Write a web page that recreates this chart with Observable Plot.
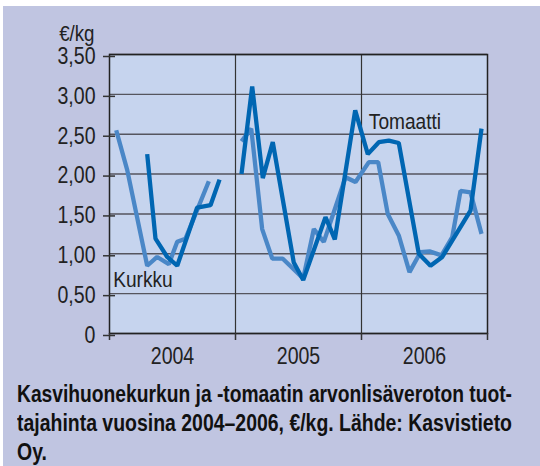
<!DOCTYPE html>
<html><head><meta charset="utf-8">
<script src="https://cdn.jsdelivr.net/npm/d3@7"></script>
<script src="https://cdn.jsdelivr.net/npm/@observablehq/plot@0.6"></script>
<style>
body{margin:0;background:#fff;font-family:"Liberation Sans",Arial,sans-serif;}
#panel{position:absolute;left:3px;top:6px;width:537px;height:460px;background:#c0c5e1;}
#chart{position:absolute;left:0;top:0;}
#caption{position:absolute;left:17px;top:380px;font-weight:bold;font-size:23px;line-height:29px;color:#111;}
#caption div{white-space:nowrap;transform-origin:0 0;width:max-content;}
</style></head>
<body>
<div id="panel"></div>
<div id="chart"></div>
<div id="caption">
<div>Kasvihuonekurkun ja -tomaatin arvonlisäveroton tuot-</div>
<div>tajahinta vuosina 2004–2006, €/kg. Lähde: Kasvistieto</div>
<div>Oy.</div>
</div>
<script>
// x = month index from Jan 2004 (0) to end of 2006 (36)
const kurkku2004Month = [0.64, 1.69, 3.59, 4.54, 5.65, 6.45, 7.24, 9.46];
const kurkku2004Price = [2.55, 2.05, 0.85, 0.96, 0.87, 1.15, 1.19, 1.91];
const kurkku0506Month = [12.57, 13.50, 14.54, 15.50, 16.48, 18.45, 19.46, 20.41, 22.48, 23.43, 24.70, 25.59, 26.50, 27.55, 28.57, 29.62, 30.48, 31.62, 32.64, 33.43, 34.38, 35.43];
const kurkku0506Price = [2.41, 2.57, 1.31, 0.94, 0.94, 0.69, 1.31, 1.15, 1.96, 1.90, 2.15, 2.15, 1.50, 1.23, 0.77, 1.02, 1.03, 0.98, 1.21, 1.79, 1.77, 1.25];
const tomaatti2004Month = [3.59, 4.38, 5.50, 6.45, 8.35, 9.62, 10.48];
const tomaatti2004Price = [2.25, 1.19, 0.96, 0.85, 1.58, 1.61, 1.93];
const tomaatti0506Month = [12.57, 13.59, 14.60, 15.55, 17.55, 18.45, 20.57, 21.46, 23.40, 24.60, 25.65, 26.60, 27.55, 29.46, 30.57, 31.69, 34.38, 35.43];
const tomaatti0506Price = [2.00, 3.10, 1.95, 2.40, 0.89, 0.67, 1.46, 1.18, 2.80, 2.25, 2.40, 2.42, 2.39, 1.00, 0.85, 0.96, 1.54, 2.57];

const yTicks = [0, 0.5, 1, 1.5, 2, 2.5, 3, 3.5];
const yTickLabels = ["0", "0,50", "1,00", "1,50", "2,00", "2,50", "3,00", "3,50"];
const yearBoundaries = [0, 12, 24, 36];
const yearCenters = [6, 18, 30];
const yearLabels = ["2004", "2005", "2006"];
const unitLabel = "€/kg";
const seriesLabels = ["Kurkku", "Tomaatti"];
const seriesLabelMonth = [0.35, 24.7];
const seriesLabelPrice = [0.68, 2.65];

const rows = (months, prices, seg) => months.map((m, i) => ({month: m, price: prices[i], seg}));
const kurkku = [...rows(kurkku2004Month, kurkku2004Price, "a"), ...rows(kurkku0506Month, kurkku0506Price, "b")];
const tomaatti = [...rows(tomaatti2004Month, tomaatti2004Price, "a"), ...rows(tomaatti0506Month, tomaatti0506Price, "b")];
const labels = seriesLabels.map((t, i) => ({t, month: seriesLabelMonth[i], price: seriesLabelPrice[i]}));

const font = '"Liberation Sans",Arial,sans-serif';
const chart = Plot.plot({
  width: 540, height: 370,
  marginLeft: 109, marginRight: 53, marginTop: 54, marginBottom: 37,
  x: {domain: [0, 36]},
  y: {domain: [0, 3.5]},
  style: {background: "transparent", fontFamily: font, fontSize: "23px", color: "#222", overflow: "visible"},
  marks: [
    Plot.frame({fill: "#c6d4ee", stroke: null}),
    Plot.gridY(yTicks, {stroke: "#55555e", strokeOpacity: 1, strokeWidth: 1.4}),
    Plot.ruleX(yearBoundaries.slice(1, -1), {stroke: "#333", strokeWidth: 1.2}),
    Plot.line(kurkku, {x: "month", y: "price", z: "seg", stroke: "#4a87c7", strokeWidth: 4.3, strokeLinejoin: "miter", strokeLinecap: "butt"}),
    Plot.line(tomaatti, {x: "month", y: "price", z: "seg", stroke: "#0066b2", strokeWidth: 4.3, strokeLinejoin: "miter", strokeLinecap: "butt"}),
    Plot.text(labels, {x: "month", y: "price", text: "t", textAnchor: "start", lineAnchor: "middle", fill: "#222", fontSize: 22.5}),
    Plot.frame({stroke: "#222", strokeWidth: 1.5}),
    Plot.axisY({ticks: yTicks, tickSize: 12, dx: 6, tickPadding: 8, dy: 2, tickFormat: d => yTickLabels[yTicks.indexOf(d)], label: null, stroke: "#333", strokeWidth: 1.5}),
    Plot.axisX({ticks: yearBoundaries, tickSize: 7, tickFormat: () => "", label: null, stroke: "#333", strokeWidth: 1.5}),
    Plot.axisX({ticks: yearCenters, tickSize: 0, tickPadding: 14, tickFormat: d => yearLabels[yearCenters.indexOf(d)], label: null}),
    Plot.text([unitLabel], {frameAnchor: "top-left", text: d => d, textAnchor: "end", lineAnchor: "bottom", dx: -15, dy: -14, fill: "#222", fontSize: 22})
  ]
});
document.getElementById("chart").appendChild(chart);

// condensed look: squeeze SVG texts horizontally around their anchor
const squeeze = 0.85;
chart.querySelectorAll("text").forEach(t => {
  const tr = t.getAttribute("transform");
  if (tr !== null) {
    t.setAttribute("transform", tr + ` scale(${squeeze},1)`);
  } else {
    const x = +(t.getAttribute("x") || 0);
    t.setAttribute("transform", `translate(${x},0) scale(${squeeze},1) translate(${-x},0)`);
  }
});

// caption: fit first two lines to justified width
const capLines = document.querySelectorAll("#caption div");
const target = 495;
let s = 1;
capLines.forEach((el, i) => {
  const w = el.getBoundingClientRect().width;
  if (i < 2) s = target / w;
  el.style.transform = `scaleX(${s})`;
});
</script>
</body></html>
